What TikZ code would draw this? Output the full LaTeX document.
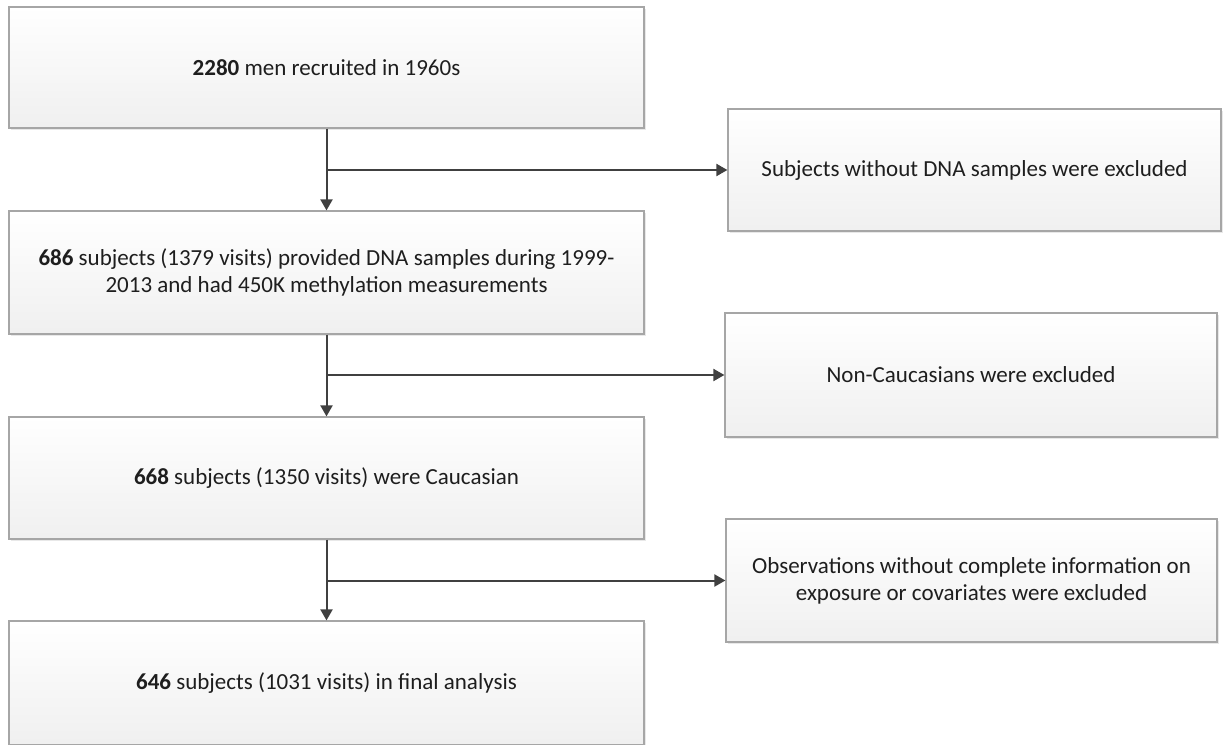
\documentclass[tikz,border=0pt]{standalone}
\usepackage{fontspec}
\setmainfont{Carlito}
\usepackage{xcolor}
\usepackage{tikz}
\usetikzlibrary{arrows.meta}
\usetikzlibrary{shadows}
\definecolor{boxline}{HTML}{A6A6A6}
\definecolor{flowline}{HTML}{404040}
\definecolor{txt}{HTML}{1E1E1E}
\tikzset{
	stagebox/.style={draw=boxline, line width=1.2pt, top color=white, bottom color=black!6,
		drop shadow={opacity=0.18, shadow xshift=1.5pt, shadow yshift=-1.5pt},
		text=txt, align=center, inner sep=0pt, font=\fontsize{23}{27}\selectfont},
	flow/.style={draw=flowline, line width=2pt, -{Triangle[length=11pt,width=12pt]}}
}

\begin{document}
\begin{tikzpicture}[x=1pt,y=-1pt]
			\useasboundingbox (0,0) rectangle (1225,744);
			\node [stagebox, minimum width=635pt, minimum height=121pt] (recruit) at (326.5,67.5) {\textbf{2280} men recruited in 1960s};
			\node [stagebox, minimum width=635pt, minimum height=123pt] (dna) at (326.5,272.5) {\textbf{686} subjects (1379 visits) provided DNA samples during 1999-\\2013 and had 450K methylation measurements};
			\node [stagebox, minimum width=635pt, minimum height=122pt] (cauc) at (326.5,478) {\textbf{668} subjects (1350 visits) were Caucasian};
			\node [stagebox, minimum width=635pt, minimum height=124pt] (final) at (326.5,683) {\textbf{646} subjects (1031 visits) in final analysis};
			\node [stagebox, minimum width=493pt, minimum height=122pt] (exdna) at (974.5,170) {Subjects without DNA samples were excluded};
			\node [stagebox, minimum width=492pt, minimum height=124pt] (excauc) at (971,375) {Non-Caucasians were excluded};
			\node [stagebox, minimum width=491pt, minimum height=123pt] (exinfo) at (971.5,580.5) {Observations without complete information on\\exposure or covariates were excluded};
			\draw [flow] (recruit) -- (dna);
			\draw [flow] (dna) -- (cauc);
			\draw [flow] (cauc) -- (final);
			\draw [flow] (recruit.south |- exdna.west) -- (exdna.west);
			\draw [flow] (dna.south |- excauc.west) -- (excauc.west);
			\draw [flow] (cauc.south |- exinfo.west) -- (exinfo.west);
		\end{tikzpicture}
\end{document}
